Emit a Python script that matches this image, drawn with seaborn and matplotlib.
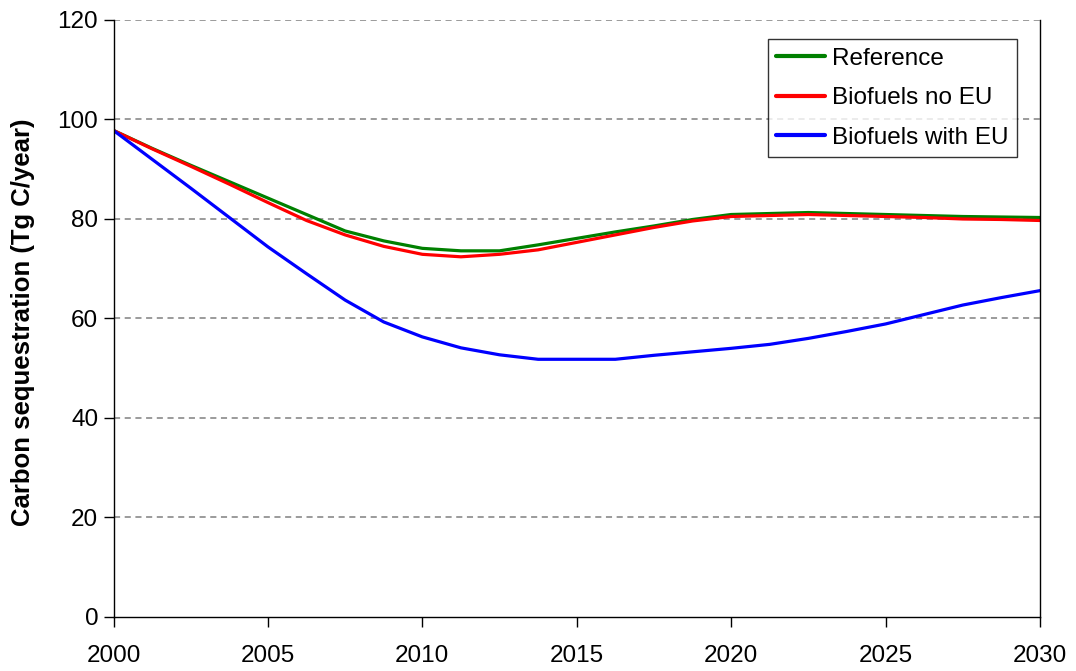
import numpy as np
import pandas as pd
import matplotlib
matplotlib.use("Agg")
import matplotlib.pyplot as plt
import seaborn as sns

years = [2000 + 1.25 * i for i in range(25)]

reference = [97.8, 94.2, 90.8, 87.5, 84.2, 80.9, 77.6, 75.6, 74.1, 73.6,
             73.6, 74.8, 76.1, 77.4, 78.6, 79.9, 80.9, 81.1, 81.3, 81.1,
             80.9, 80.7, 80.5, 80.4, 80.3]
biofuels_no_eu = [97.8, 94.1, 90.6, 87.0, 83.3, 79.7, 76.8, 74.5, 72.9, 72.4,
                  72.9, 73.8, 75.3, 76.8, 78.3, 79.6, 80.5, 80.7, 80.9, 80.7,
                  80.5, 80.3, 80.0, 79.9, 79.7]
biofuels_with_eu = [97.8, 92.0, 86.2, 80.3, 74.4, 69.0, 63.7, 59.3, 56.3, 54.1,
                    52.7, 51.8, 51.8, 51.8, 52.6, 53.3, 54.0, 54.8, 56.0, 57.4,
                    58.9, 60.8, 62.7, 64.2, 65.6]

series_names = ["Reference", "Biofuels no EU", "Biofuels with EU"]
series_colors = ["#008000", "#FF0000", "#0000FF"]

df = pd.DataFrame({
    "year": years * 3,
    "value": reference + biofuels_no_eu + biofuels_with_eu,
    "scenario": np.repeat(series_names, len(years)),
})

sns.set_style("white")
plt.rcParams["font.family"] = ["Liberation Sans", "DejaVu Sans"]
plt.rcParams["text.color"] = "black"
plt.rcParams["axes.labelcolor"] = "black"

fig = plt.figure(figsize=(10.76, 6.71), dpi=100)
ax = fig.add_axes([0.1055, 0.0805, 0.861, 0.8897])

sns.lineplot(data=df, x="year", y="value", hue="scenario",
             palette=dict(zip(series_names, series_colors)),
             hue_order=series_names, linewidth=2.3, ax=ax)

ax.set_xlim(2000, 2030)
ax.set_ylim(0, 120)
ax.set_xticks(range(2000, 2031, 5))
ax.set_yticks(range(0, 121, 20))
ax.tick_params(axis="both", labelsize=17.5, direction="out", length=7,
               width=1, colors="black", left=True, bottom=True)
ax.tick_params(axis="x", pad=13)
ax.tick_params(axis="y", pad=4)

for y in range(20, 121, 20):
    ax.axhline(y, color="#808080", linestyle=(0, (4, 3)), linewidth=1.1, zorder=0)

ax.spines["top"].set_visible(False)
for side in ["left", "right", "bottom"]:
    ax.spines[side].set_color("black")
    ax.spines[side].set_linewidth(1.0)

ax.set_xlabel("")
ax.set_ylabel("Carbon sequestration (Tg C/year)", fontsize=18.5,
              fontweight="bold")
ax.yaxis.set_label_coords(-0.0845, 0.494)

leg = ax.legend(loc="upper right", bbox_to_anchor=(0.9755, 0.968), fontsize=17.5,
                frameon=True, fancybox=False, handlelength=2.0,
                handletextpad=0.3, borderpad=0.35, labelspacing=0.72,
                borderaxespad=0)
leg.get_frame().set_edgecolor("black")
leg.get_frame().set_linewidth(1.0)
for line in leg.get_lines():
    line.set_linewidth(3)

fig.savefig("out.png", dpi=100)
